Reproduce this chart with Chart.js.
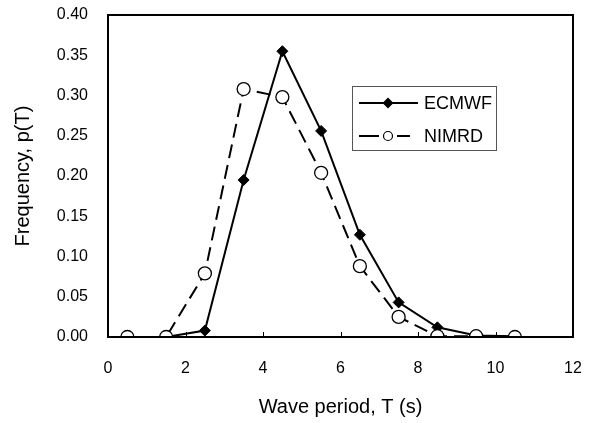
<!DOCTYPE html>
<html>
<head>
<meta charset="utf-8">
<script src="https://cdn.jsdelivr.net/npm/chart.js@4.4.1/dist/chart.umd.min.js"></script>
<style>
  html, body { margin:0; padding:0; background:#fff; }
  #wrap { width:591px; height:423px; }
</style>
</head>
<body>
<div id="wrap"><canvas id="chart" width="591" height="423"></canvas></div>
<script>
// ---------- DADOS ----------
const periods = [0.5, 1.5, 2.5, 3.5, 4.5, 5.5, 6.5, 7.5, 8.5, 9.5, 10.5];
const ecmwf = [0, 0, 0.008, 0.195, 0.355, 0.256, 0.127, 0.043, 0.012, 0.002, 0.001];
const nimrd = [0, 0, 0.079, 0.308, 0.298, 0.204, 0.088, 0.025, 0.001, 0.001, 0];
const xTicks = [0, 2, 4, 6, 8, 10, 12];
const yTicks = [0, 0.05, 0.10, 0.15, 0.20, 0.25, 0.30, 0.35, 0.40];

const FONT = 'Arial, "Liberation Sans", sans-serif';
const pts = arr => periods.map((x,i)=>({x, y: arr[i]}));

// tiques internos no eixo x + borda da area
const frame = {
  id: 'frame',
  afterDatasetsDraw(chart){
    const {ctx, chartArea:a, scales:{x}} = chart;
    ctx.save();
    ctx.strokeStyle = '#000';
    ctx.lineWidth = 1;
    xTicks.slice(1,-1).forEach(v=>{
      const px = Math.round(x.getPixelForValue(v)) + 0.5;
      ctx.beginPath(); ctx.moveTo(px, a.bottom); ctx.lineTo(px, a.bottom - 5); ctx.stroke();
    });
    ctx.lineWidth = 2;
    ctx.strokeRect(a.left, a.top, a.right - a.left, a.bottom - a.top);
    ctx.restore();
  }
};

// legenda dentro da area do grafico
const boxLegend = {
  id: 'boxLegend',
  afterDraw(chart){
    const ctx = chart.ctx;
    const bx = 352, by = 86, bw = 144, bh = 64;
    ctx.save();
    ctx.fillStyle = '#fff';
    ctx.fillRect(bx, by, bw, bh);
    ctx.strokeStyle = '#555';
    ctx.lineWidth = 1;
    ctx.strokeRect(bx + 0.5, by + 0.5, bw, bh);
    ctx.strokeStyle = '#000';
    ctx.lineWidth = 2;
    const cx = 388;
    // ECMWF
    let y = 103;
    ctx.beginPath(); ctx.moveTo(359, y); ctx.lineTo(418, y); ctx.stroke();
    ctx.fillStyle = '#000';
    ctx.beginPath();
    ctx.moveTo(cx, y - 5.5); ctx.lineTo(cx + 5.5, y); ctx.lineTo(cx, y + 5.5); ctx.lineTo(cx - 5.5, y);
    ctx.closePath(); ctx.fill();
    // NIMRD
    y = 136;
    ctx.beginPath(); ctx.moveTo(359, y); ctx.lineTo(379, y); ctx.moveTo(397, y); ctx.lineTo(410, y); ctx.stroke();
    ctx.fillStyle = '#fff';
    ctx.lineWidth = 1.2;
    ctx.beginPath(); ctx.arc(cx, y, 4.5, 0, Math.PI*2); ctx.fill(); ctx.stroke();
    // textos
    ctx.fillStyle = '#000';
    ctx.font = '18px ' + FONT;
    ctx.textBaseline = 'middle';
    ctx.textAlign = 'left';
    ctx.fillText('ECMWF', 424, 104);
    ctx.fillText('NIMRD', 424, 137);
    ctx.restore();
  }
};

new Chart(document.getElementById('chart'), {
  type: 'line',
  data: {
    datasets: [
      { label: 'ECMWF', data: pts(ecmwf), borderColor: '#000', borderWidth: 2,
        pointStyle: 'rectRot', pointRadius: 5.5, pointBackgroundColor: '#000', pointBorderColor: '#000', pointBorderWidth: 1,
        tension: 0, order: 2 },
      { label: 'NIMRD', data: pts(nimrd), borderColor: '#000', borderWidth: 2, borderDash: [14, 7],
        pointStyle: 'circle', pointRadius: 6.5, pointBackgroundColor: '#fff', pointBorderColor: '#000', pointBorderWidth: 1.3,
        tension: 0, order: 1 }
    ]
  },
  options: {
    responsive: false,
    animation: false,
    layout: { padding: { left: 0, right: 18, top: 15, bottom: 0 } },
    plugins: { legend: { display: false }, tooltip: { enabled: false } },
    scales: {
      x: {
        type: 'linear', min: 0, max: 12,
        afterBuildTicks: s => { s.ticks = xTicks.map(v=>({value:v})); },
        afterFit: s => { s.height = 86; s.paddingLeft = 0; s.paddingRight = 0; },
        grid: { display: false, drawTicks: false },
        border: { display: true, color: '#000', width: 2 },
        ticks: { color: '#000', padding: 22, font: { family: FONT, size: 16 } },
        title: { display: true, text: 'Wave period, T (s)', color: '#000',
          font: { family: FONT, size: 20 }, padding: { top: 0, bottom: 4 } }
      },
      y: {
        min: 0, max: 0.40,
        afterBuildTicks: s => { s.ticks = yTicks.map(v=>({value:v})); },
        afterFit: s => { s.width = 108; s.paddingTop = 0; s.paddingBottom = 0; },
        grid: { display: false, drawTicks: false },
        border: { display: true, color: '#000', width: 2 },
        ticks: { color: '#000', padding: 20, font: { family: FONT, size: 16 },
          callback: v => Number(v).toFixed(2) },
        title: { display: true, text: 'Frequency, p(T)', color: '#000',
          font: { family: FONT, size: 20 }, padding: { top: 11, bottom: 0 } }
      }
    }
  },
  plugins: [frame, boxLegend]
});
</script>
</body>
</html>
